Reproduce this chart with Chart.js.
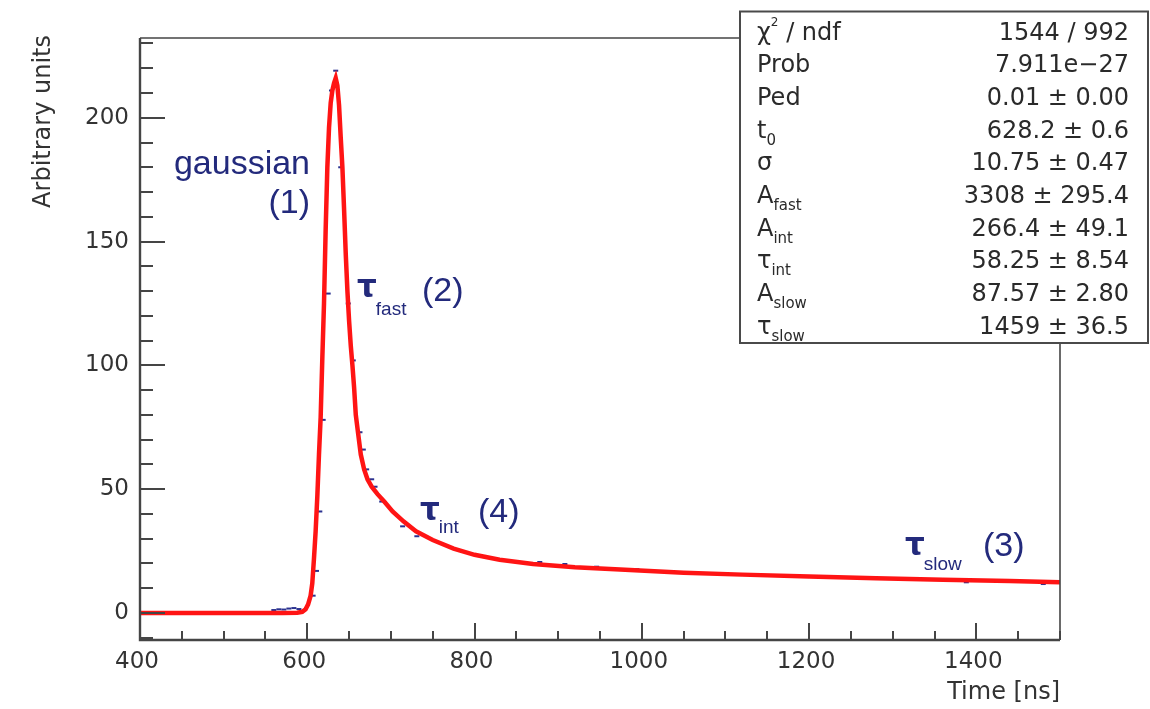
<!DOCTYPE html>
<html>
<head>
<meta charset="utf-8">
<script src="https://cdn.jsdelivr.net/npm/chart.js@4.4.1/dist/chart.umd.min.js"></script>
<style>
  html, body { margin: 0; padding: 0; background: #ffffff; }
  canvas { display: block; }
</style>
</head>
<body>
<canvas id="pulse" width="1150" height="709"></canvas>
<script>
// Fitted pulse shape: time [ns] and amplitude [arbitrary units]
const fitTime = [400, 500, 570, 588, 594, 598, 601, 604, 606, 608, 610, 612, 614, 616, 618, 620, 622, 624, 626, 628,
                 630, 632, 634, 636, 638, 640, 642, 644, 646, 648, 650, 652, 654, 656, 658, 661, 664, 668, 672, 677,
                 684, 692, 702, 715, 730, 750, 775, 800, 830, 870, 920, 980, 1050, 1120, 1200, 1280, 1360, 1440, 1500];
const fitValue = [0.01, 0.01, 0.01, 0.1, 0.5, 1.5, 3.5, 7, 12, 22, 33, 47, 64, 79, 103, 125, 155, 180, 196, 206,
                  211, 214, 216, 213, 205, 192, 180, 163, 145, 130, 118, 108, 100, 91, 80, 72, 64, 58, 54, 51,
                  48, 45, 41, 37, 33, 29.5, 26, 23.5, 21.5, 19.8, 18.5, 17.5, 16.3, 15.5, 14.7, 14.0, 13.4, 12.9, 12.4];

// Recorded waveform bins that show around the fitted curve
const dataTime = [560, 566, 572, 578, 584, 590, 607, 611, 615, 619, 625, 629, 634, 640, 649, 655, 663, 667, 671, 677,
                  681, 689, 714, 731, 878, 908, 946, 994, 1388, 1480];
const dataValue = [1.2, 1.5, 1.4, 1.8, 2.0, 1.6, 7, 17, 41, 78, 129, 211, 219, 180, 125, 102, 73, 66, 58, 54,
                   51, 45, 35, 31, 20.6, 19.8, 18.7, 17.7, 12.4, 11.7];

// Axis labelling
const xLabelValues = [400, 600, 800, 1000, 1200, 1400];
const yLabelValues = [0, 50, 100, 150, 200];

// Fit statistics box
const statLabels = ['χ^{2} / ndf', 'Prob', 'Ped', 't_{0}', 'σ', 'A_{fast}', 'A_{int}', 'τ_{int}', 'A_{slow}', 'τ_{slow}'];
const statValues = ['1544 / 992', '7.911e−27', '0.01 ± 0.00', '628.2 ± 0.6', '10.75 ± 0.47', '3308 ± 295.4',
                    '266.4 ± 49.1', '58.25 ± 8.54', '87.57 ± 2.80', '1459 ± 36.5'];

const AXIS_FONT = '"DejaVu Sans", sans-serif';
const NOTE_FONT = '"Liberation Sans", Arial, sans-serif';
const NAVY = '#232a7c';
const AXIS_COLOR = '#454545';

function pairs(xs, ys) { return xs.map((x, i) => ({ x: x, y: ys[i] })); }

function rangeTicks(from, to, step) {
  const out = [];
  for (let v = from; v <= to + 1e-9; v += step) out.push({ value: v });
  return out;
}

// Split a label such as "A_{fast}" or "χ^{2} / ndf" into plain / sub / sup pieces
function latexParts(s) {
  const parts = [];
  const re = /([_^])\{([^}]*)\}/g;
  let last = 0, m;
  while ((m = re.exec(s))) {
    if (m.index > last) parts.push({ t: s.slice(last, m.index), k: '' });
    parts.push({ t: m[2], k: m[1] });
    last = re.lastIndex;
  }
  if (last < s.length) parts.push({ t: s.slice(last), k: '' });
  return parts;
}

function drawLatex(ctx, s, x, y, size) {
  let cx = x;
  for (const p of latexParts(s)) {
    let fs = size, dy = 0;
    if (p.k === '_') { fs = Math.round(size * 0.62); dy = 7; }
    if (p.k === '^') { fs = Math.round(size * 0.5); dy = -14; }
    ctx.font = fs + 'px ' + AXIS_FONT;
    ctx.fillText(p.t, cx, y + dy);
    cx += ctx.measureText(p.t).width;
  }
}

const rootFrame = {
  id: 'rootFrame',
  afterDatasetsDraw(chart) {
    const ctx = chart.ctx;
    const a = chart.chartArea;
    const xs = chart.scales.x, ys = chart.scales.y;
    ctx.save();

    // frame
    ctx.strokeStyle = AXIS_COLOR;
    ctx.lineWidth = 1.6;
    ctx.beginPath();
    ctx.moveTo(a.left, a.top); ctx.lineTo(a.right, a.top); ctx.lineTo(a.right, a.bottom);
    ctx.stroke();
    ctx.lineWidth = 2.4;
    ctx.beginPath();
    ctx.moveTo(a.left, a.top); ctx.lineTo(a.left, a.bottom); ctx.lineTo(a.right, a.bottom);
    ctx.stroke();

    // inward tick marks
    ctx.lineWidth = 2;
    ctx.beginPath();
    for (const t of xs.ticks) {
      const px = Math.round(xs.getPixelForValue(t.value));
      const len = (t.value % 200 === 0) ? 17 : 9;
      ctx.moveTo(px, a.bottom); ctx.lineTo(px, a.bottom - len);
    }
    for (const t of ys.ticks) {
      const py = Math.round(ys.getPixelForValue(t.value));
      const len = (t.value % 50 === 0) ? 25 : 13;
      ctx.moveTo(a.left, py); ctx.lineTo(a.left + len, py);
    }
    ctx.stroke();

    // component annotations
    ctx.fillStyle = NAVY;
    ctx.textBaseline = 'alphabetic';
    ctx.font = '34px ' + NOTE_FONT;
    ctx.textAlign = 'right';
    ctx.fillText('gaussian', 310, 174);
    ctx.fillText('(1)', 310, 213);
    ctx.textAlign = 'left';
    const notes = [
      { sub: 'fast', tx: 357, ty: 297, sy: 315, tag: '(2)', gx: 422, gy: 301 },
      { sub: 'int',  tx: 420, ty: 520, sy: 533, tag: '(4)', gx: 478, gy: 522 },
      { sub: 'slow', tx: 905, ty: 555, sy: 570, tag: '(3)', gx: 983, gy: 556 }
    ];
    for (const n of notes) {
      ctx.font = 'bold 31px ' + AXIS_FONT;
      ctx.fillText('τ', n.tx, n.ty);
      const w = ctx.measureText('τ').width;
      ctx.font = '19px ' + NOTE_FONT;
      ctx.fillText(n.sub, n.tx + w - 1, n.sy);
      ctx.font = '34px ' + NOTE_FONT;
      ctx.fillText(n.tag, n.gx, n.gy);
    }
    ctx.restore();
  },
  afterDraw(chart) {
    const ctx = chart.ctx;
    ctx.save();
    ctx.fillStyle = '#333333';

    // axis titles
    ctx.font = '24px ' + AXIS_FONT;
    ctx.textAlign = 'right';
    ctx.textBaseline = 'alphabetic';
    ctx.fillText('Time [ns]', 1060, 699);
    ctx.save();
    ctx.translate(50, 35);
    ctx.rotate(-Math.PI / 2);
    ctx.fillText('Arbitrary units', 0, 0);
    ctx.restore();

    // statistics box
    const bx = 740, by = 11.5, bw = 408, bh = 331.5;
    ctx.fillStyle = '#ffffff';
    ctx.fillRect(bx, by, bw, bh);
    ctx.strokeStyle = '#4a4a4a';
    ctx.lineWidth = 2;
    ctx.strokeRect(bx, by, bw, bh);
    ctx.fillStyle = '#2a2a2a';
    for (let i = 0; i < statLabels.length; i++) {
      const base = 39.5 + 32.7 * i;
      ctx.textAlign = 'left';
      drawLatex(ctx, statLabels[i], 757, base, 24);
      ctx.textAlign = 'right';
      ctx.font = '24px ' + AXIS_FONT;
      ctx.fillText(statValues[i], 1129, base);
    }
    ctx.restore();
  }
};

new Chart(document.getElementById('pulse'), {
  type: 'line',
  data: {
    datasets: [
      {
        label: 'fit',
        data: pairs(fitTime, fitValue),
        borderColor: '#ff1414',
        borderWidth: 4.5,
        pointRadius: 0,
        tension: 0,
        fill: false,
        order: 1
      },
      {
        label: 'data',
        data: pairs(dataTime, dataValue),
        showLine: false,
        pointStyle: 'line',
        pointRadius: 2.5,
        borderColor: '#2b3290',
        backgroundColor: '#2b3290',
        borderWidth: 2,
        order: 2
      }
    ]
  },
  options: {
    responsive: false,
    animation: false,
    devicePixelRatio: 1,
    layout: { padding: { top: 38, right: 90, left: 0, bottom: 0 } },
    plugins: { legend: { display: false }, tooltip: { enabled: false } },
    scales: {
      x: {
        type: 'linear',
        min: 400,
        max: 1500,
        afterBuildTicks: s => { s.ticks = rangeTicks(400, 1500, 50); },
        afterFit: s => { s.height = 69; },
        grid: { display: false, drawTicks: false },
        border: { display: false },
        ticks: {
          autoSkip: false,
          maxRotation: 0,
          padding: 8,
          labelOffset: -3,
          color: '#333333',
          font: { family: AXIS_FONT, size: 23 },
          callback: v => xLabelValues.includes(v) ? String(v) : ''
        }
      },
      y: {
        type: 'linear',
        min: -10.9,
        max: 232.2,
        afterBuildTicks: s => { s.ticks = rangeTicks(-10, 230, 10); },
        afterFit: s => { s.width = 140; },
        grid: { display: false, drawTicks: false },
        border: { display: false },
        ticks: {
          autoSkip: false,
          padding: 11,
          color: '#333333',
          font: { family: AXIS_FONT, size: 23 },
          callback: v => yLabelValues.includes(v) ? String(v) : ''
        }
      }
    }
  },
  plugins: [rootFrame]
});
</script>
</body>
</html>
